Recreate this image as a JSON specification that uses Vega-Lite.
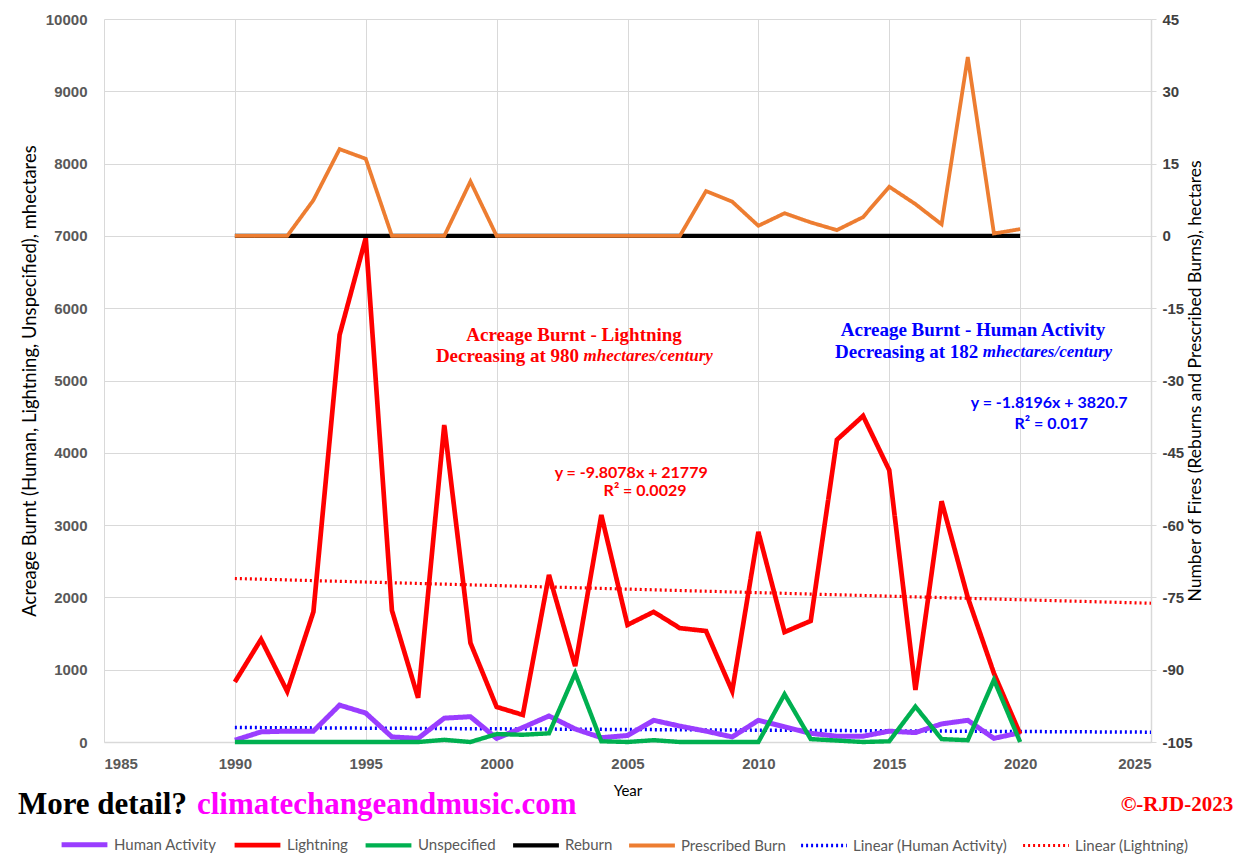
{
  "$schema": "https://vega.github.io/schema/vega-lite/v6.json",
  "width": 1047,
  "height": 723,
  "autosize": "none",
  "padding": {"left": 104, "top": 19, "right": 90, "bottom": 123},
  "background": "white",
  "config": {
    "view": {"stroke": null},
    "font": "Liberation Sans"
  },
  "datasets": {
    "fires": [
      {"year": 1990, "Human Activity": 25, "Lightning": 830, "Unspecified": 0, "Reburn": 0, "Prescribed Burn": 0},
      {"year": 1991, "Human Activity": 140, "Lightning": 1420, "Unspecified": 0, "Reburn": 0, "Prescribed Burn": 0},
      {"year": 1992, "Human Activity": 150, "Lightning": 700, "Unspecified": 0, "Reburn": 0, "Prescribed Burn": 0},
      {"year": 1993, "Human Activity": 150, "Lightning": 1800, "Unspecified": 0, "Reburn": 0, "Prescribed Burn": 7.4},
      {"year": 1994, "Human Activity": 510, "Lightning": 5630, "Unspecified": 0, "Reburn": 0, "Prescribed Burn": 18},
      {"year": 1995, "Human Activity": 400, "Lightning": 6970, "Unspecified": 0, "Reburn": 0, "Prescribed Burn": 16},
      {"year": 1996, "Human Activity": 70, "Lightning": 1820, "Unspecified": 0, "Reburn": 0, "Prescribed Burn": 0},
      {"year": 1997, "Human Activity": 50, "Lightning": 610, "Unspecified": 0, "Reburn": 0, "Prescribed Burn": 0},
      {"year": 1998, "Human Activity": 330, "Lightning": 4385, "Unspecified": 30, "Reburn": 0, "Prescribed Burn": 0},
      {"year": 1999, "Human Activity": 350, "Lightning": 1370, "Unspecified": 0, "Reburn": 0, "Prescribed Burn": 11.3},
      {"year": 2000, "Human Activity": 50, "Lightning": 485, "Unspecified": 110, "Reburn": 0, "Prescribed Burn": 0},
      {"year": 2001, "Human Activity": 200, "Lightning": 375, "Unspecified": 100, "Reburn": 0, "Prescribed Burn": 0},
      {"year": 2002, "Human Activity": 360, "Lightning": 2310, "Unspecified": 120, "Reburn": 0, "Prescribed Burn": 0},
      {"year": 2003, "Human Activity": 180, "Lightning": 1050, "Unspecified": 950, "Reburn": 0, "Prescribed Burn": 0},
      {"year": 2004, "Human Activity": 60, "Lightning": 3140, "Unspecified": 10, "Reburn": 0, "Prescribed Burn": 0},
      {"year": 2005, "Human Activity": 90, "Lightning": 1620, "Unspecified": 0, "Reburn": 0, "Prescribed Burn": 0},
      {"year": 2006, "Human Activity": 300, "Lightning": 1800, "Unspecified": 25, "Reburn": 0, "Prescribed Burn": 0},
      {"year": 2007, "Human Activity": 220, "Lightning": 1575, "Unspecified": 0, "Reburn": 0, "Prescribed Burn": 0},
      {"year": 2008, "Human Activity": 150, "Lightning": 1535, "Unspecified": 0, "Reburn": 0, "Prescribed Burn": 9.3},
      {"year": 2009, "Human Activity": 70, "Lightning": 705, "Unspecified": 0, "Reburn": 0, "Prescribed Burn": 7.1},
      {"year": 2010, "Human Activity": 300, "Lightning": 2905, "Unspecified": 0, "Reburn": 0, "Prescribed Burn": 2.1},
      {"year": 2011, "Human Activity": 210, "Lightning": 1520, "Unspecified": 660, "Reburn": 0, "Prescribed Burn": 4.7},
      {"year": 2012, "Human Activity": 120, "Lightning": 1675, "Unspecified": 40, "Reburn": 0, "Prescribed Burn": 2.8},
      {"year": 2013, "Human Activity": 80, "Lightning": 4180, "Unspecified": 20, "Reburn": 0, "Prescribed Burn": 1.2},
      {"year": 2014, "Human Activity": 80, "Lightning": 4510, "Unspecified": 0, "Reburn": 0, "Prescribed Burn": 3.9},
      {"year": 2015, "Human Activity": 150, "Lightning": 3760, "Unspecified": 10, "Reburn": 0, "Prescribed Burn": 10.2},
      {"year": 2016, "Human Activity": 130, "Lightning": 720, "Unspecified": 490, "Reburn": 0, "Prescribed Burn": 6.6},
      {"year": 2017, "Human Activity": 250, "Lightning": 3330, "Unspecified": 40, "Reburn": 0, "Prescribed Burn": 2.4},
      {"year": 2018, "Human Activity": 300, "Lightning": 2000, "Unspecified": 25, "Reburn": 0, "Prescribed Burn": 37.1},
      {"year": 2019, "Human Activity": 50, "Lightning": 950, "Unspecified": 860, "Reburn": 0, "Prescribed Burn": 0.5},
      {"year": 2020, "Human Activity": 130, "Lightning": 110, "Unspecified": 0, "Reburn": 0, "Prescribed Burn": 1.4}
    ],
    "trend": [
      {"year": 1990, "series": "Linear (Human Activity)", "value": 200.7},
      {"year": 2025, "series": "Linear (Human Activity)", "value": 136.0},
      {"year": 1990, "series": "Linear (Lightning)", "value": 2261.5},
      {"year": 2025, "series": "Linear (Lightning)", "value": 1919.1}
    ],
    "notes": [
      {"key": "lt1", "year": 2002.96, "value": 5630, "text": "Acreage Burnt - Lightning"},
      {"key": "lt2", "year": 2003.15, "value": 5339, "text": "Decreasing at 980"},
      {"key": "lt3", "year": 2003.32, "value": 5339, "text": "mhectares/century"},
      {"key": "ht1", "year": 2018.2, "value": 5698, "text": "Acreage Burnt - Human Activity"},
      {"key": "ht2", "year": 2018.4, "value": 5401, "text": "Decreasing at 182"},
      {"key": "ht3", "year": 2018.57, "value": 5401, "text": "mhectares/century"},
      {"key": "le1", "year": 2005.14, "value": 3720, "text": "y = -9.8078x + 21779"},
      {"key": "le2", "year": 2005.67, "value": 3472, "text": "R² = 0.0029"},
      {"key": "he1", "year": 2021.11, "value": 4689, "text": "y = -1.8196x + 3820.7"},
      {"key": "he2", "year": 2021.19, "value": 4398, "text": "R² = 0.017"},
      {"key": "md", "year": 1981.71, "value": -871, "text": "More detail?"},
      {"key": "url", "year": 1988.55, "value": -871, "text": "climatechangeandmusic.com"},
      {"key": "cr", "year": 2028.14, "value": -871, "text": "©-RJD-2023"}
    ]
  },
  "resolve": {"scale": {"y": "independent"}},
  "encoding": {
    "x": {
      "field": "year", "type": "quantitative",
      "scale": {"domain": [1985, 2025], "nice": false, "zero": false},
      "axis": {
        "values": [1985, 1990, 1995, 2000, 2005, 2010, 2015, 2020, 2025],
        "format": "d",
        "grid": true, "gridColor": "#D9D9D9", "gridWidth": 1,
        "domain": true, "domainColor": "#D9D9D9", "domainWidth": 1.5,
        "ticks": false,
        "labelFont": "Liberation Sans", "labelFontWeight": "bold", "labelFontSize": 15, "labelColor": "#595959",
        "labelPadding": 14,
        "title": "Year", "titleFont": "Lato", "titleFontSize": 15, "titleFontWeight": "normal", "titleColor": "#000000",
        "titlePadding": 12
      }
    }
  },
  "layer": [
    {
      "data": {"name": "trend"},
      "mark": {"type": "line", "clip": false},
      "encoding": {
        "y": {"field": "value", "type": "quantitative", "scale": {"domain": [0, 10000], "nice": false}, "axis": null},
        "color": {"field": "series", "type": "nominal"},
        "strokeDash": {"field": "series", "type": "nominal"},
        "strokeWidth": {"field": "series", "type": "nominal"}
      }
    },
    {
      "data": {"name": "fires"},
      "transform": [{"fold": ["Human Activity", "Lightning", "Unspecified"], "as": ["series", "value"]}],
      "mark": {"type": "line", "strokeJoin": "miter"},
      "encoding": {
        "y": {
          "field": "value", "type": "quantitative",
          "scale": {"domain": [0, 10000], "nice": false},
          "axis": {
            "values": [0, 1000, 2000, 3000, 4000, 5000, 6000, 7000, 8000, 9000, 10000],
            "format": "d",
            "grid": true, "gridColor": "#D9D9D9", "gridWidth": 1,
            "domain": false, "ticks": false,
            "labelFont": "Liberation Sans", "labelFontWeight": "bold", "labelFontSize": 15, "labelColor": "#595959",
            "labelPadding": 17,
            "title": "Acreage Burnt (Human, Lightning, Unspecified), mhectares",
            "titleFont": "Lato", "titleFontSize": 18.5, "titleFontWeight": "normal", "titleColor": "#000000",
            "titlePadding": 6
          }
        },
        "color": {
          "field": "series", "type": "nominal",
          "scale": {
            "domain": ["Human Activity", "Lightning", "Unspecified", "Reburn", "Prescribed Burn", "Linear (Human Activity)", "Linear (Lightning)"],
            "range": ["#9A3DFF", "#FF0000", "#00B050", "#000000", "#ED7D31", "#0000FF", "#FF0000"]
          },
          "legend": {
            "orient": "none", "legendX": -45, "legendY": 800,
            "direction": "horizontal", "title": null,
            "symbolType": "stroke", "symbolSize": 2100,
            "labelFont": "Lato", "labelFontSize": 15, "labelColor": "#595959",
            "labelOffset": 4, "columnPadding": 8
          }
        },
        "strokeDash": {
          "field": "series", "type": "nominal",
          "scale": {
            "domain": ["Human Activity", "Lightning", "Unspecified", "Reburn", "Prescribed Burn", "Linear (Human Activity)", "Linear (Lightning)"],
            "range": [[1, 0], [1, 0], [1, 0], [1, 0], [1, 0], [2, 3], [2, 3]]
          }
        },
        "strokeWidth": {
          "field": "series", "type": "nominal",
          "scale": {
            "domain": ["Human Activity", "Lightning", "Unspecified", "Reburn", "Prescribed Burn", "Linear (Human Activity)", "Linear (Lightning)"],
            "range": [5, 3.2, 3.2, 4, 3.2, 2, 2]
          }
        }
      }
    },
    {
      "data": {"name": "fires"},
      "transform": [{"fold": ["Reburn", "Prescribed Burn"], "as": ["series", "value"]}],
      "mark": {"type": "line", "strokeJoin": "miter"},
      "encoding": {
        "y": {
          "field": "value", "type": "quantitative",
          "scale": {"domain": [-105, 45], "nice": false, "zero": false},
          "axis": {
            "orient": "right",
            "values": [-105, -90, -75, -60, -45, -30, -15, 0, 15, 30, 45],
            "labelExpr": "'' + datum.value",
            "grid": false,
            "domain": true, "domainColor": "#D9D9D9", "domainWidth": 1.5,
            "ticks": true, "tickColor": "#D9D9D9", "tickSize": 5,
            "labelFont": "Liberation Sans", "labelFontWeight": "bold", "labelFontSize": 15, "labelColor": "#404040",
            "labelPadding": 6,
            "title": "Number of Fires (Reburns and Prescribed Burns), hectares",
            "titleFont": "Lato", "titleFontSize": 17.5, "titleFontWeight": "normal", "titleColor": "#000000",
            "titleAngle": 270, "titlePadding": 12
          }
        },
        "color": {"field": "series", "type": "nominal"},
        "strokeDash": {"field": "series", "type": "nominal"},
        "strokeWidth": {"field": "series", "type": "nominal"}
      }
    },
    {
      "data": {"name": "notes"},
      "transform": [{"filter": "datum.key === 'lt1'"}],
      "mark": {"type": "text", "font": "Liberation Serif", "fontWeight": "bold", "fontSize": 19, "align": "center", "baseline": "middle", "color": "#FF0000"},
      "encoding": {
        "y": {"field": "value", "type": "quantitative", "scale": {"domain": [0, 10000], "nice": false}, "axis": null},
        "text": {"field": "text"}
      }
    },
    {
      "data": {"name": "notes"},
      "transform": [{"filter": "datum.key === 'ht1'"}],
      "mark": {"type": "text", "font": "Liberation Serif", "fontWeight": "bold", "fontSize": 19, "align": "center", "baseline": "middle", "color": "#0000FF"},
      "encoding": {
        "y": {"field": "value", "type": "quantitative", "scale": {"domain": [0, 10000], "nice": false}, "axis": null},
        "text": {"field": "text"}
      }
    },
    {
      "data": {"name": "notes"},
      "transform": [{"filter": "datum.key === 'lt2'"}],
      "mark": {"type": "text", "font": "Liberation Serif", "fontWeight": "bold", "fontSize": 19, "align": "right", "baseline": "middle", "color": "#FF0000"},
      "encoding": {
        "y": {"field": "value", "type": "quantitative", "scale": {"domain": [0, 10000], "nice": false}, "axis": null},
        "text": {"field": "text"}
      }
    },
    {
      "data": {"name": "notes"},
      "transform": [{"filter": "datum.key === 'ht2'"}],
      "mark": {"type": "text", "font": "Liberation Serif", "fontWeight": "bold", "fontSize": 19, "align": "right", "baseline": "middle", "color": "#0000FF"},
      "encoding": {
        "y": {"field": "value", "type": "quantitative", "scale": {"domain": [0, 10000], "nice": false}, "axis": null},
        "text": {"field": "text"}
      }
    },
    {
      "data": {"name": "notes"},
      "transform": [{"filter": "datum.key === 'lt3'"}],
      "mark": {"type": "text", "font": "Liberation Serif", "fontWeight": "bold", "fontStyle": "italic", "fontSize": 17, "align": "left", "baseline": "middle", "color": "#FF0000"},
      "encoding": {
        "y": {"field": "value", "type": "quantitative", "scale": {"domain": [0, 10000], "nice": false}, "axis": null},
        "text": {"field": "text"}
      }
    },
    {
      "data": {"name": "notes"},
      "transform": [{"filter": "datum.key === 'ht3'"}],
      "mark": {"type": "text", "font": "Liberation Serif", "fontWeight": "bold", "fontStyle": "italic", "fontSize": 17, "align": "left", "baseline": "middle", "color": "#0000FF"},
      "encoding": {
        "y": {"field": "value", "type": "quantitative", "scale": {"domain": [0, 10000], "nice": false}, "axis": null},
        "text": {"field": "text"}
      }
    },
    {
      "data": {"name": "notes"},
      "transform": [{"filter": "datum.key === 'le1' || datum.key === 'le2'"}],
      "mark": {"type": "text", "font": "Lato", "fontWeight": "bold", "fontSize": 16, "align": "center", "baseline": "middle", "color": "#FF0000"},
      "encoding": {
        "y": {"field": "value", "type": "quantitative", "scale": {"domain": [0, 10000], "nice": false}, "axis": null},
        "text": {"field": "text"}
      }
    },
    {
      "data": {"name": "notes"},
      "transform": [{"filter": "datum.key === 'he1' || datum.key === 'he2'"}],
      "mark": {"type": "text", "font": "Lato", "fontWeight": "bold", "fontSize": 16, "align": "center", "baseline": "middle", "color": "#0000FF"},
      "encoding": {
        "y": {"field": "value", "type": "quantitative", "scale": {"domain": [0, 10000], "nice": false}, "axis": null},
        "text": {"field": "text"}
      }
    },
    {
      "data": {"name": "notes"},
      "transform": [{"filter": "datum.key === 'md'"}],
      "mark": {"type": "text", "font": "Liberation Serif", "fontWeight": "bold", "fontSize": 31, "align": "left", "baseline": "middle", "color": "#000000"},
      "encoding": {
        "y": {"field": "value", "type": "quantitative", "scale": {"domain": [0, 10000], "nice": false}, "axis": null},
        "text": {"field": "text"}
      }
    },
    {
      "data": {"name": "notes"},
      "transform": [{"filter": "datum.key === 'url'"}],
      "mark": {"type": "text", "font": "Liberation Serif", "fontWeight": "bold", "fontSize": 31, "align": "left", "baseline": "middle", "color": "#FF00FF"},
      "encoding": {
        "y": {"field": "value", "type": "quantitative", "scale": {"domain": [0, 10000], "nice": false}, "axis": null},
        "text": {"field": "text"}
      }
    },
    {
      "data": {"name": "notes"},
      "transform": [{"filter": "datum.key === 'cr'"}],
      "mark": {"type": "text", "font": "Liberation Serif", "fontWeight": "bold", "fontSize": 21, "align": "right", "baseline": "middle", "color": "#FF0000"},
      "encoding": {
        "y": {"field": "value", "type": "quantitative", "scale": {"domain": [0, 10000], "nice": false}, "axis": null},
        "text": {"field": "text"}
      }
    }
  ]
}
